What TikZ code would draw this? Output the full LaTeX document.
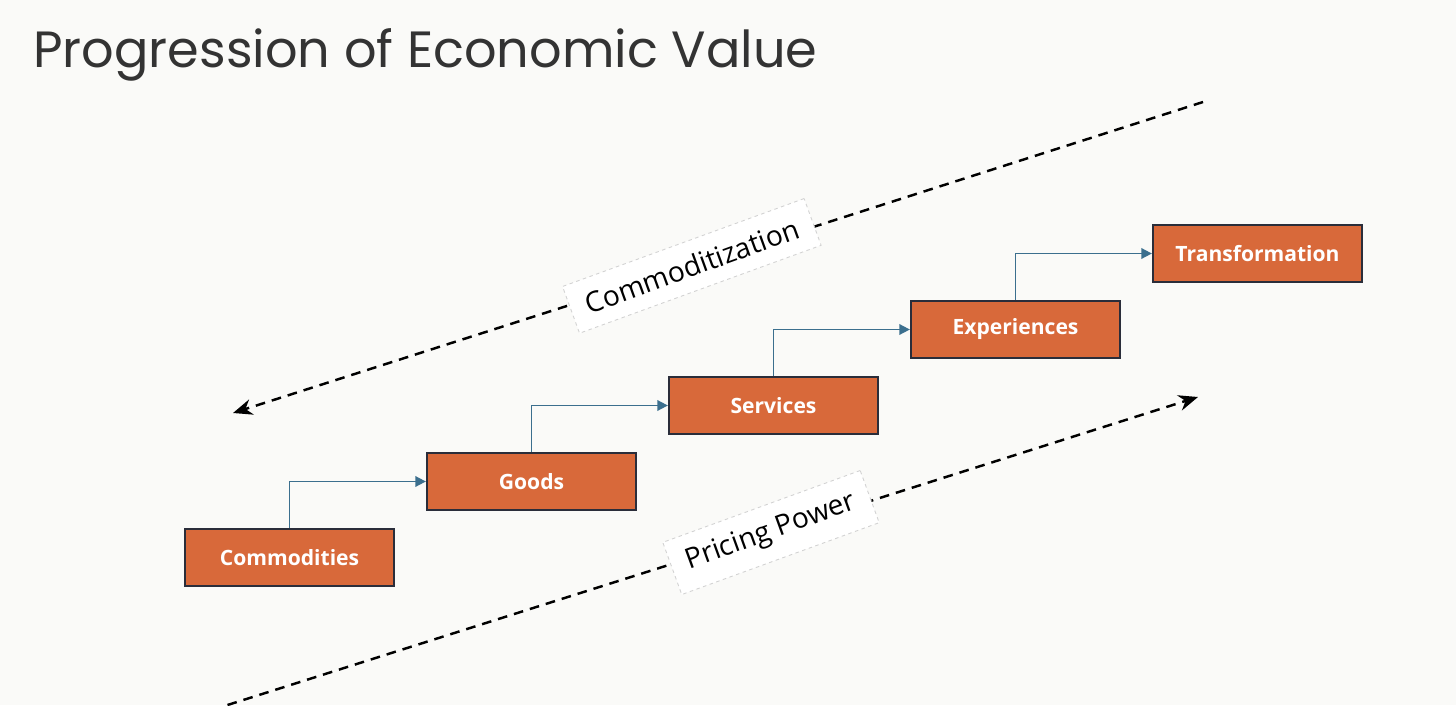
\documentclass[tikz,border=0pt]{standalone}
\usepackage{fontspec}
\setmainfont{Open Sans}
\newfontfamily\titlefont{Poppins}
\usetikzlibrary{arrows.meta, positioning}
\usepackage{xcolor}
\definecolor{boxorange}{HTML}{D8693A}
\definecolor{boxedge}{HTML}{2A2D3A}
\definecolor{stepblue}{HTML}{3B6F8E}
\definecolor{paper}{HTML}{FAFAF8}
\definecolor{titlegray}{HTML}{333333}

\begin{document}
\begin{tikzpicture}[node distance=4.84cm,
  stepbox/.style={rectangle, draw=boxedge, line width=1.3pt, fill=boxorange, minimum width=4.18cm, minimum height=1.14cm, text=white, font=\bfseries\fontsize{12}{14}\selectfont},
  stepline/.style={-{Triangle[length=6pt,width=6pt]}, stepblue, line width=1pt},
  trendline/.style={-{Stealth[length=11pt,width=9pt]}, dash pattern=on 5.5pt off 4pt, line width=1.4pt},
  trendtag/.style={draw=gray!35, dash pattern=on 2pt off 2pt, line width=0.5pt, fill=white, rotate=20, font=\fontsize{16}{18}\selectfont, inner xsep=9pt, inner ysep=8pt}]
  \fill[paper] (0,0) rectangle (29.12,14.1);
  \useasboundingbox (0,0) rectangle (29.12,14.1);

  \node[anchor=base west, inner sep=0pt, text=titlegray, font=\titlefont\fontsize{29}{34}\selectfont] (title) at (0.66,12.76) {Progression of Economic Value};

  % the five stages
  \node[stepbox] (comm) at (5.79,2.95) {Commodities};
  \node[stepbox, right of=comm, yshift=1.52cm] (goods) {Goods};
  \node[stepbox, right of=goods, yshift=1.52cm] (serv) {Services};
  \node[stepbox, right of=serv, yshift=1.52cm] (exper) {Experiences};
  \node[stepbox, right of=exper, yshift=1.52cm] (trans) {Transformation};

  \draw[stepline] (comm.north) |- (goods.west);
  \draw[stepline] (goods.north) |- (serv.west);
  \draw[stepline] (serv.north) |- (exper.west);
  \draw[stepline] (exper.north) |- (trans.west);

  % trends
  \coordinate (cstart) at (24.06,12.06);
  \coordinate (cend) at (4.66,5.84);
  \coordinate (pstart) at (4.55,0.0);
  \coordinate (pend) at (23.96,6.16);

  \draw[trendline] (cstart) -- node[trendtag, pos=0.527] (ctag) {Commoditization} (cend);
  \draw[trendline] (pstart) -- node[trendtag, pos=0.56] (ptag) {Pricing Power} (pend);
\end{tikzpicture}
\end{document}
